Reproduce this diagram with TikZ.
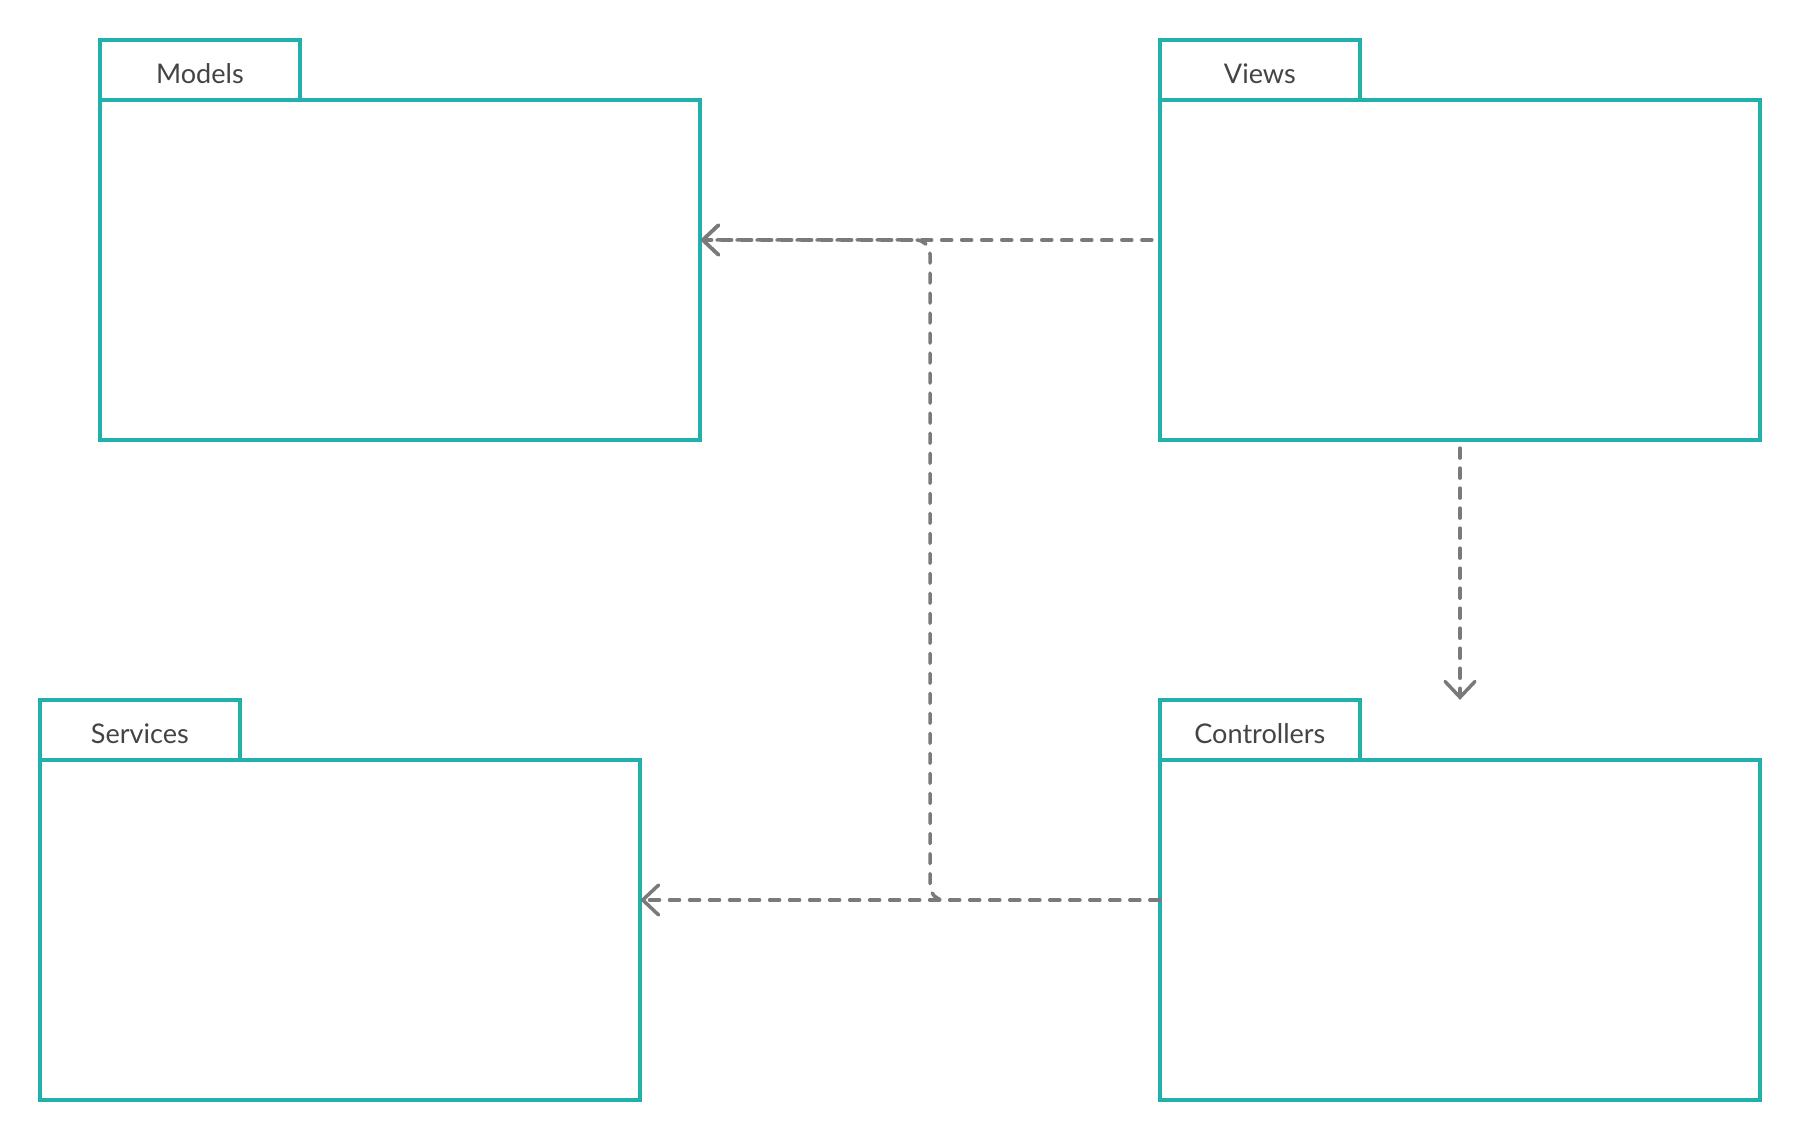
\documentclass[tikz,border=0pt]{standalone}
\usepackage{fontspec}
\setmainfont{Lato}
\usepackage{tikz}
\usepackage{xcolor}
\usetikzlibrary{arrows.meta}
\definecolor{PkgTeal}{HTML}{22B0AD}
\definecolor{DepGrey}{HTML}{7A7A7A}
\definecolor{LabelGrey}{HTML}{444444}

\begin{document}
\begin{tikzpicture}[x=0.01cm, y=-0.01cm,
    pkgbody/.style={draw=PkgTeal, line width=1pt, minimum width=6cm, minimum height=3.4cm, inner sep=0pt, outer sep=0pt},
    pkgtab/.style={draw=PkgTeal, line width=1pt, minimum width=2cm, minimum height=0.6cm, inner sep=0pt, outer sep=0pt,
        text height=7.6pt, text depth=0pt, anchor=south west, text=LabelGrey, font=\fontsize{7.7pt}{9pt}\selectfont},
    dep/.style={draw=DepGrey, line width=1pt, line cap=round, dash pattern=on 0.1cm off 0.1cm,
        -{Straight Barb[length=4.5pt, width=8.5pt, line cap=round]}}]
    \useasboundingbox (0,0) rectangle (1800,1140);
    % Packages
    \node[pkgbody] (models) at (400,270) {};
    \node[pkgtab] (modelstab) at (models.north west) {Models};
    \node[pkgbody] (views) at (1460,270) {};
    \node[pkgtab] (viewstab) at (views.north west) {Views};
    \node[pkgbody] (services) at (340,930) {};
    \node[pkgtab] (servicestab) at (services.north west) {Services};
    \node[pkgbody] (controllers) at (1460,930) {};
    \node[pkgtab] (controllerstab) at (controllers.north west) {Controllers};

    % Dependencies
    \coordinate (modelsin) at ([yshift=0.3cm]models.east);
    \coordinate (servicesin) at ([yshift=0.3cm]services.east);
    \coordinate (ctrlout) at ([yshift=0.3cm]controllers.west);
    \coordinate (bend) at (930,0);
    \draw[dep] ([xshift=-0.08cm, yshift=0.3cm]views.west) -- (modelsin);
    \draw[dep] ([yshift=-0.08cm]views.south) -- (views.south |- controllerstab.north);
    \draw[dep] (ctrlout) -- (servicesin);
    \draw[dep, rounded corners=4pt] (ctrlout) -| (bend |- modelsin) -- (modelsin);
\end{tikzpicture}
\end{document}
